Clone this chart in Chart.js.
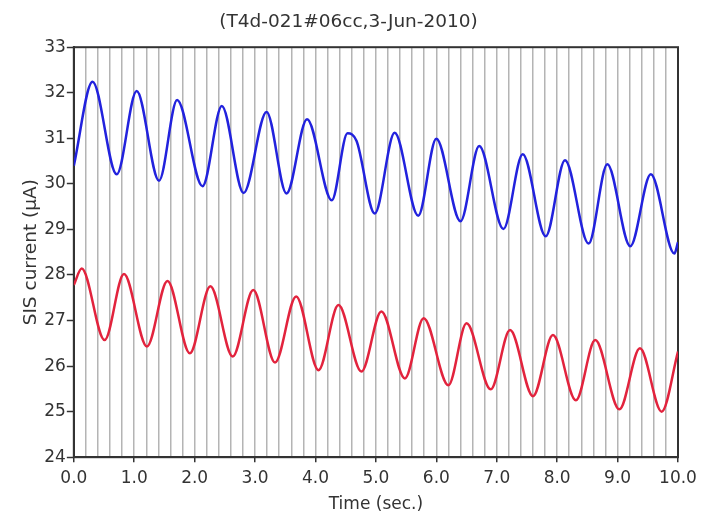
<!DOCTYPE html>
<html>
<head>
<meta charset="utf-8">
<script src="https://cdn.jsdelivr.net/npm/chart.js@4.4.1/dist/chart.umd.min.js"></script>
<style>
  html, body { margin: 0; padding: 0; background: #fff; }
  #wrap { width: 712px; height: 515px; }
</style>
</head>
<body>
<div id="wrap"><canvas id="sisChart"></canvas></div>
<script>
// SIS junction current, two channels, turning points of each trace (sec. / uA)
const blueTime = [0, 0.31, 0.71, 1.04, 1.41, 1.71, 2.13, 2.45, 2.81, 3.19, 3.52, 3.86, 4.27, 4.53, 4.68,
                  4.98, 5.31, 5.70, 6.00, 6.40, 6.71, 7.11, 7.43, 7.81, 8.13, 8.52, 8.83, 9.21, 9.55, 9.94, 10.0];
const blueCurrent = [30.40, 32.24, 30.21, 32.04, 30.07, 31.84, 29.95, 31.71, 29.80, 31.58, 29.79, 31.42, 29.64, 31.11, 30.94,
                     29.35, 31.12, 29.30, 30.99, 29.18, 30.83, 29.01, 30.65, 28.85, 30.52, 28.69, 30.43, 28.63, 30.21, 28.47, 28.72];

const redTime = [0, 0.13, 0.51, 0.83, 1.21, 1.55, 1.92, 2.26, 2.63, 2.97, 3.33, 3.68, 4.05, 4.38, 4.76,
                 5.09, 5.48, 5.79, 6.20, 6.50, 6.90, 7.22, 7.60, 7.93, 8.31, 8.63, 9.03, 9.37, 9.73, 10.0];
const redCurrent = [27.78, 28.14, 26.57, 28.02, 26.43, 27.87, 26.28, 27.75, 26.21, 27.67, 26.08, 27.53, 25.91, 27.34, 25.88,
                    27.20, 25.73, 27.05, 25.58, 26.94, 25.49, 26.79, 25.34, 26.68, 25.25, 26.57, 25.05, 26.39, 25.00, 26.32];

// only whole seconds get a label and a tick mark, grid lines every 0.2 s
const labelledTimes = [0, 1, 2, 3, 4, 5, 6, 7, 8, 9, 10];

const toPoints = (xs, ys) => xs.map((x, i) => ({ x: x, y: ys[i] }));
const isLabelled = v => labelledTimes.some(t => Math.abs(t - v) < 1e-6);

Chart.defaults.font.family = "'DejaVu Sans', sans-serif";
Chart.defaults.color = '#333';

// dark box round the plot area
const frame = {
    id: 'frame',
    beforeDatasetsDraw(chart) {
        const { ctx, chartArea: a } = chart;
        ctx.save();
        ctx.strokeStyle = '#333';
        ctx.lineWidth = 2;
        ctx.strokeRect(a.left, a.top, a.right - a.left, a.bottom - a.top);
        ctx.restore();
    }
};

new Chart(document.getElementById('sisChart'), {
    type: 'line',
    data: {
        datasets: [{
            data: toPoints(blueTime, blueCurrent),
            borderColor: '#2222dd',
            borderWidth: 2.5,
            pointRadius: 0,
            cubicInterpolationMode: 'monotone'
        }, {
            data: toPoints(redTime, redCurrent),
            borderColor: '#e2233d',
            borderWidth: 2.5,
            pointRadius: 0,
            cubicInterpolationMode: 'monotone'
        }]
    },
    options: {
        responsive: true,
        maintainAspectRatio: false,
        animation: false,
        layout: { padding: { left: 19, right: 34, top: 0, bottom: 0 } },
        plugins: {
            legend: { display: false },
            tooltip: { enabled: false },
            title: {
                display: true,
                text: '(T4d-021#06cc,3-Jun-2010)',
                color: '#333',
                font: { size: 18.5, weight: 'normal' },
                padding: { top: 11, bottom: 14 }
            }
        },
        scales: {
            x: {
                type: 'linear',
                min: 0,
                max: 10,
                ticks: {
                    stepSize: 0.2,
                    autoSkip: false,
                    maxRotation: 0,
                    padding: 6,
                    font: { size: 17 },
                    callback: v => isLabelled(v) ? v.toFixed(1) : ''
                },
                grid: {
                    color: '#b4b4b4',
                    lineWidth: 1.5,
                    tickLength: 5,
                    tickWidth: 1.5,
                    tickColor: ctx => isLabelled(ctx.tick.value) ? '#333' : 'rgba(0,0,0,0)'
                },
                border: { color: '#333', width: 2 },
                title: {
                    display: true,
                    text: 'Time (sec.)',
                    font: { size: 17 },
                    padding: { top: 0, bottom: 0 }
                }
            },
            y: {
                min: 24,
                max: 33,
                ticks: { stepSize: 1, padding: 1, font: { size: 17 } },
                grid: { drawOnChartArea: false, tickLength: 7, tickWidth: 1.5, tickColor: '#333' },
                border: { color: '#333', width: 2 },
                title: {
                    display: true,
                    text: 'SIS current (μA)',
                    font: { size: 18.5 },
                    padding: { top: 1, bottom: 1 }
                }
            }
        }
    },
    plugins: [frame]
});
</script>
</body>
</html>
